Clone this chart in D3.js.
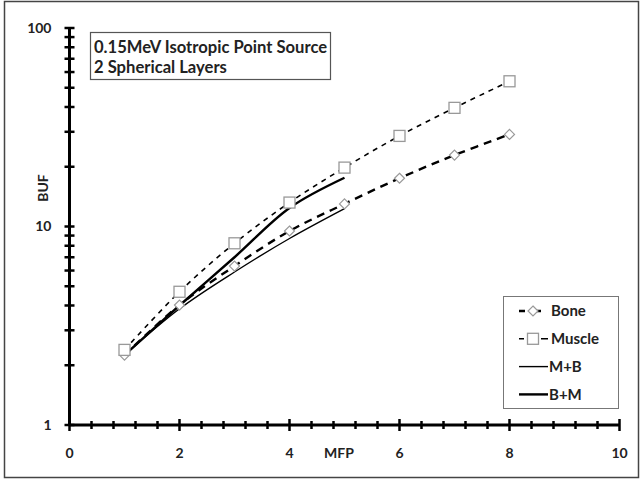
<!DOCTYPE html>
<html>
<head>
<meta charset="utf-8">
<script src="https://cdn.jsdelivr.net/npm/d3@7"></script>
<style>
  body { margin: 0; background: #fff; }
  text { font-family: Lato, "Open Sans", sans-serif; font-weight: bold; fill: #222; }
</style>
</head>
<body>
<div id="canvas"></div>
<script>
// data
var mfp = [1, 2, 3, 4, 5, 6, 7, 8];
var bone = [2.25, 4.02, 6.32, 9.49, 13.0, 17.5, 22.9, 29.1];
var muscle = [2.39, 4.69, 8.23, 13.2, 19.8, 28.6, 39.6, 53.9];
var mfpLayers = [1, 2, 3, 4, 5];
var mPlusB = [2.25, 3.85, 5.9, 8.7, 12.3];
var bPlusM = [2.25, 4.0, 7.0, 12.4, 17.6];
var xTicks = [0, 2, 4, 6, 8, 10];
var yTicks = [1, 10, 100];
var titleLines = ["0.15MeV Isotropic Point Source", "2 Spherical Layers"];

var W = 641, H = 480;
var svg = d3.select("#canvas").append("svg")
	.attr("width", W)
	.attr("height", H);

// outer frame
svg.append("rect")
	.attr("x", 4.5).attr("y", 1.5)
	.attr("width", 634).attr("height", 476)
	.attr("fill", "#fff")
	.attr("stroke", "#444")
	.attr("stroke-width", 1.5);

var x = d3.scaleLinear().domain([0, 10]).range([69.5, 619.5]);
var y = d3.scaleLog().domain([1, 100]).range([425, 28]);

// y axis with minor ticks 2..9 in each decade
var yMinor = [];
[1, 10].forEach(function(d) {
	for (var k = 2; k <= 9; k++) yMinor.push(d * k);
});
var yAxis = svg.append("g").attr("transform", "translate(" + x(0) + ",0)");
yAxis.append("line")
	.attr("y1", y(1)).attr("y2", y(100))
	.attr("stroke", "#000").attr("stroke-width", 3);
yAxis.selectAll(".ytick")
	.data(yTicks.concat(yMinor))
	.enter().append("line")
	.attr("x1", -5).attr("x2", 5)
	.attr("y1", function(d) { return y(d); })
	.attr("y2", function(d) { return y(d); })
	.attr("stroke", "#000").attr("stroke-width", 2.5);
yAxis.selectAll(".ylab")
	.data(yTicks)
	.enter().append("text")
	.attr("x", -18)
	.attr("y", function(d) { return y(d); })
	.attr("dy", "0.35em")
	.attr("text-anchor", "end")
	.attr("font-size", 14)
	.text(function(d) { return d; });

// x axis with minor ticks every 0.4
var xMinor = d3.range(0, 10.01, 0.4).filter(function(d) {
	return Math.abs(d / 2 - Math.round(d / 2)) > 0.01;
});
var xAxis = svg.append("g").attr("transform", "translate(0," + y(1) + ")");
xAxis.append("line")
	.attr("x1", x(0)).attr("x2", x(10))
	.attr("stroke", "#000").attr("stroke-width", 3);
xAxis.selectAll(".xminor")
	.data(xMinor)
	.enter().append("line")
	.attr("x1", function(d) { return x(d); })
	.attr("x2", function(d) { return x(d); })
	.attr("y1", -4).attr("y2", 4)
	.attr("stroke", "#000").attr("stroke-width", 2.5);
xAxis.selectAll(".xmajor")
	.data(xTicks)
	.enter().append("line")
	.attr("x1", function(d) { return x(d); })
	.attr("x2", function(d) { return x(d); })
	.attr("y1", -6).attr("y2", 6)
	.attr("stroke", "#000").attr("stroke-width", 2.5);
xAxis.selectAll(".xlab")
	.data(xTicks)
	.enter().append("text")
	.attr("x", function(d) { return x(d); })
	.attr("y", 28)
	.attr("dy", "0.35em")
	.attr("text-anchor", "middle")
	.attr("font-size", 14)
	.text(function(d) { return d; });

// axis titles
svg.append("text")
	.attr("transform", "translate(43,188) rotate(-90)")
	.attr("dy", "0.35em")
	.attr("text-anchor", "middle")
	.attr("font-size", 14)
	.text("BUF");
svg.append("text")
	.attr("x", 339).attr("y", 453)
	.attr("dy", "0.35em")
	.attr("text-anchor", "middle")
	.attr("font-size", 14)
	.text("MFP");

// series
var line = d3.line()
	.x(function(d) { return x(d[0]); })
	.y(function(d) { return y(d[1]); })
	.curve(d3.curveCatmullRom.alpha(0.5));

var series = [
	{ name: "Bone", xs: mfp, ys: bone, width: 2.4, dash: "8,6", marker: "diamond",
		legendDash: "6,12,4", legendEnd: 541 },
	{ name: "Muscle", xs: mfp, ys: muscle, width: 1.6, dash: "5,5", marker: "square",
		legendDash: "5,17,7", legendEnd: 548 },
	{ name: "M+B", xs: mfpLayers, ys: mPlusB, width: 1.4, dash: null, marker: null,
		legendDash: null, legendEnd: 548 },
	{ name: "B+M", xs: mfpLayers, ys: bPlusM, width: 2.4, dash: null, marker: null,
		legendDash: null, legendEnd: 548 }
];

var plot = svg.append("g");
series.forEach(function(s) {
	var pts = s.xs.map(function(v, i) { return [v, s.ys[i]]; });
	plot.append("path")
		.datum(pts)
		.attr("d", line)
		.attr("fill", "none")
		.attr("stroke", "#000")
		.attr("stroke-width", s.width)
		.attr("stroke-dasharray", s.dash);
});

function drawMarker(g, type, cx, cy) {
	if (type === "square") {
		g.append("rect")
			.attr("x", cx - 5.5).attr("y", cy - 5.5)
			.attr("width", 11).attr("height", 11)
			.attr("fill", "#fff").attr("stroke", "#999").attr("stroke-width", 1.3);
	} else if (type === "diamond") {
		g.append("path")
			.attr("d", "M" + cx + "," + (cy - 5) + "L" + (cx + 5) + "," + cy +
				"L" + cx + "," + (cy + 5) + "L" + (cx - 5) + "," + cy + "Z")
			.attr("fill", "#fff").attr("stroke", "#999").attr("stroke-width", 1.2);
	}
}

series.forEach(function(s) {
	if (!s.marker) return;
	s.xs.forEach(function(v, i) {
		drawMarker(plot, s.marker, x(v), y(s.ys[i]));
	});
});

// title box
var tb = svg.append("g");
tb.append("rect")
	.attr("x", 90.5).attr("y", 32.5)
	.attr("width", 240).attr("height", 47)
	.attr("fill", "#fff").attr("stroke", "#555").attr("stroke-width", 1.2);
tb.selectAll("text")
	.data(titleLines)
	.enter().append("text")
	.attr("x", 94)
	.attr("y", function(d, i) { return 47 + i * 20; })
	.attr("dy", "0.35em")
	.attr("font-size", 16.6)
	.text(function(d) { return d; });

// legend
var lg = svg.append("g");
lg.append("rect")
	.attr("x", 503.5).attr("y", 296.5)
	.attr("width", 115).attr("height", 112)
	.attr("fill", "#fff").attr("stroke", "#777").attr("stroke-width", 1);
series.forEach(function(s, i) {
	var ly = 311 + i * 27.8;
	lg.append("line")
		.attr("x1", 519).attr("x2", s.legendEnd)
		.attr("y1", ly).attr("y2", ly)
		.attr("stroke", "#000")
		.attr("stroke-width", s.width)
		.attr("stroke-dasharray", s.legendDash);
	if (s.marker) drawMarker(lg, s.marker, 533, ly);
	lg.append("text")
		.attr("x", s.marker ? 551 : 549)
		.attr("y", ly)
		.attr("dy", "0.35em")
		.attr("font-size", 15)
		.text(s.name);
});
</script>
</body>
</html>
